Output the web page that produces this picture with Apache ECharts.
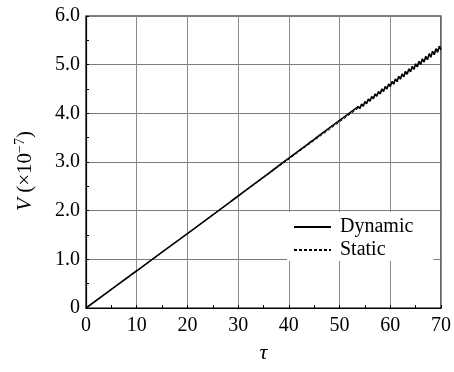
<!DOCTYPE html>
<html><head><meta charset="utf-8">
<script src="https://cdn.jsdelivr.net/npm/echarts@6/dist/echarts.min.js"></script>
<style>html,body{margin:0;padding:0;background:#fff}#c{width:454px;height:372px}</style>
</head><body><div id="c"></div>
<script>
var xTicks = [0, 10, 20, 30, 40, 50, 60, 70];
var yTicks = [0, 1, 2, 3, 4, 5, 6];
var seriesNames = ['Dynamic', 'Static'];
var dynamicTau = [0, 5, 10, 15, 20,
25, 25.33, 25.67, 26, 26.33, 26.67, 27, 27.33, 27.67, 28, 28.33, 28.67, 29, 29.33, 29.67,
30, 30.33, 30.67, 31, 31.33, 31.67, 32, 32.33, 32.67, 33, 33.33, 33.67, 34, 34.33, 34.67,
35, 35.33, 35.67, 36, 36.33, 36.67, 37, 37.33, 37.67, 38, 38.33, 38.67, 39, 39.33, 39.67,
40, 40.33, 40.67, 41, 41.33, 41.67, 42, 42.33, 42.67, 43, 43.33, 43.67, 44, 44.33, 44.67,
45, 45.33, 45.67, 46, 46.33, 46.67, 47, 47.33, 47.67, 48, 48.33, 48.67, 49, 49.33, 49.67,
50, 50.33, 50.67, 51, 51.33, 51.67, 52, 52.33, 52.67, 53, 53.33, 53.67, 54, 54.33, 54.67,
55, 55.33, 55.67, 56, 56.33, 56.67, 57, 57.33, 57.67, 58, 58.33, 58.67, 59, 59.33, 59.67,
60, 60.33, 60.67, 61, 61.33, 61.67, 62, 62.33, 62.67, 63, 63.33, 63.67, 64, 64.33, 64.67,
65, 65.33, 65.67, 66, 66.33, 66.67, 67, 67.33, 67.67, 68, 68.33, 68.67, 69, 69.33, 69.67,
70];
var dynamicV = [0, 0.383, 0.765, 1.148, 1.530,
1.913, 1.938, 1.964, 1.988, 2.016, 2.038, 2.068, 2.088, 2.120, 2.138, 2.172, 2.188, 2.224, 2.238, 2.276,
2.289, 2.327, 2.339, 2.379, 2.389, 2.431, 2.439, 2.483, 2.489, 2.535, 2.539, 2.587, 2.589, 2.639, 2.639,
2.691, 2.690, 2.742, 2.740, 2.794, 2.790, 2.846, 2.840, 2.898, 2.890, 2.950, 2.940, 3.002, 2.990, 3.054,
3.041, 3.105, 3.091, 3.157, 3.141, 3.209, 3.191, 3.260, 3.242, 3.312, 3.292, 3.364, 3.342, 3.416, 3.393,
3.467, 3.443, 3.519, 3.493, 3.571, 3.544, 3.622, 3.594, 3.674, 3.644, 3.726, 3.695, 3.777, 3.745, 3.829,
3.795, 3.881, 3.845, 3.932, 3.896, 3.984, 3.946, 4.036, 3.996, 4.088, 4.047, 4.139, 4.097, 4.191, 4.147,
4.243, 4.198, 4.294, 4.248, 4.346, 4.298, 4.398, 4.349, 4.449, 4.399, 4.501, 4.449, 4.553, 4.499, 4.604,
4.550, 4.656, 4.600, 4.708, 4.650, 4.760, 4.701, 4.811, 4.751, 4.863, 4.801, 4.915, 4.852, 4.966, 4.902,
5.018, 4.952, 5.070, 5.003, 5.121, 5.053, 5.173, 5.103, 5.225, 5.153, 5.276, 5.204, 5.328, 5.254, 5.380,
5.304];
var staticTau = [0, 70];
var staticV = [0, 5.355];

function pairs(xs, ys) { return xs.map(function (x, i) { return [x, ys[i]]; }); }

var FONT = 'Liberation Serif';
var chart = echarts.init(document.getElementById('c'), null, {renderer: 'canvas'});
chart.setOption({
  animation: false,
  backgroundColor: '#fff',
  grid: {left: 86, right: 12, top: 16, bottom: 64, show: true, borderColor: '#000', borderWidth: 1.2, backgroundColor: 'transparent'},
  legend: {
    left: 287, top: 212, orient: 'vertical', itemWidth: 37, itemHeight: 14, itemGap: 1,
    padding: [4, 20, 0, 6], backgroundColor: '#fff',
    itemStyle: {color: 'transparent', borderColor: 'transparent', borderWidth: 0, opacity: 0},
    textStyle: {fontFamily: FONT, fontSize: 20, color: '#000', lineHeight: 22, padding: [0, 0, 0, 4]},
    data: seriesNames
  },
  xAxis: {
    type: 'value', min: xTicks[0], max: xTicks[xTicks.length - 1], interval: 10,
    name: 'τ', nameLocation: 'middle', nameGap: 34,
    nameTextStyle: {fontFamily: FONT, fontStyle: 'italic', fontSize: 22, color: '#000'},
    axisLine: {show: true, lineStyle: {color: '#000', width: 1.2}},
    axisTick: {show: true, inside: true, length: 3, lineStyle: {color: '#000'}},
    minorTick: {show: true, splitNumber: 2, length: 3, lineStyle: {color: '#000'}},
    axisLabel: {fontFamily: FONT, fontSize: 20, color: '#000', margin: 8},
    splitLine: {show: true, lineStyle: {color: '#8a8a8a', width: 1}}
  },
  yAxis: {
    type: 'value', min: yTicks[0], max: yTicks[yTicks.length - 1], interval: 1,
    name: '{i|V} ({n|×10}{s|−7})', nameLocation: 'middle', nameGap: 49, nameRotate: 90,
    nameTextStyle: {
      fontFamily: FONT, fontSize: 21, color: '#000', padding: [0, 18, 0, 0],
      rich: {
        i: {fontFamily: FONT, fontStyle: 'italic', fontSize: 21, color: '#000'},
        n: {fontFamily: FONT, fontSize: 21, color: '#000'},
        s: {fontFamily: FONT, fontSize: 14, color: '#000', verticalAlign: 'top', padding: [0, 0, 10, 0]}
      }
    },
    axisLine: {show: true, lineStyle: {color: '#000', width: 1.2}},
    axisTick: {show: true, inside: true, length: 3, lineStyle: {color: '#000'}},
    minorTick: {show: true, splitNumber: 2, length: 3, lineStyle: {color: '#000'}},
    axisLabel: {fontFamily: FONT, fontSize: 20, color: '#000', margin: 6,
      formatter: function (v) { return v === 0 ? '0' : v.toFixed(1); }},
    splitLine: {show: true, lineStyle: {color: '#7a7a7a', width: 1}}
  },
  series: [
    {name: seriesNames[1], type: 'line', data: pairs(staticTau, staticV), symbol: 'none', z: 2,
      lineStyle: {color: '#000', width: 1, type: [3, 2]}, itemStyle: {color: '#000'}},
    {name: seriesNames[0], type: 'line', data: pairs(dynamicTau, dynamicV), symbol: 'none', z: 3,
      lineStyle: {color: '#000', width: 1.6}, itemStyle: {color: '#000'}}
  ]
});
</script></body></html>
